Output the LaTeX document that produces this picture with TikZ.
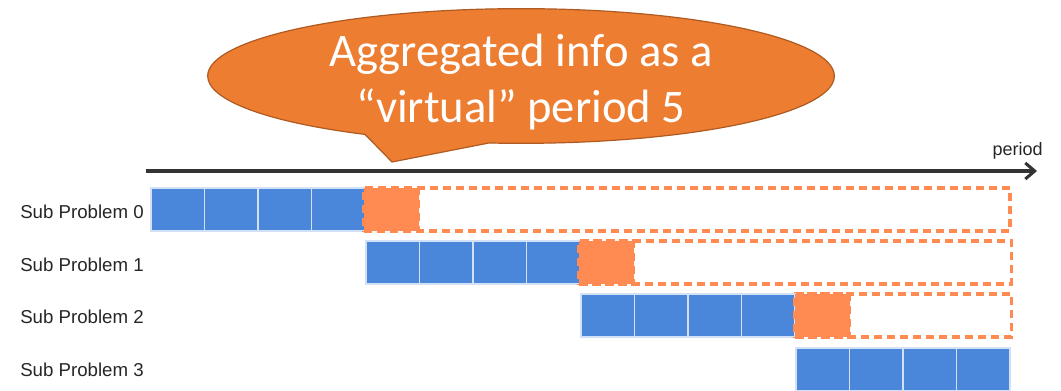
\documentclass[tikz,border=0pt]{standalone}
\usepackage{fontspec}
\setmainfont{Liberation Sans}
\newfontfamily\calloutfont{Carlito}
\usetikzlibrary{shapes.callouts,arrows.meta}
\definecolor{cellblue}{RGB}{74,134,218}
\definecolor{cellorange}{RGB}{255,139,82}
\definecolor{callfill}{RGB}{237,125,49}
\definecolor{calldraw}{RGB}{174,90,33}
\definecolor{axisgray}{RGB}{51,51,51}
\tikzset{
  cell/.style={anchor=north west, fill=cellblue, draw=white!75!cellblue, line width=0.8pt,
    minimum width=40.1pt, minimum height=32.25pt, inner sep=0pt, outer sep=0pt},
  aggcell/.style={anchor=north west, fill=cellorange, draw=cellorange, line width=2.4pt,
    dash pattern=on 6pt off 3.75pt, minimum width=41pt, minimum height=32.25pt, inner sep=0pt, outer sep=0pt},
  dashbox/.style={anchor=north west, draw=cellorange, line width=2.4pt,
    dash pattern=on 6pt off 3.75pt, minimum height=32.25pt, inner sep=0pt, outer sep=0pt},
  rowlabel/.style={anchor=west, inner sep=0pt, font=\fontsize{14pt}{16pt}\selectfont, text=black!85},
  axis/.style={draw=axisgray, line width=2.3pt, -{Straight Barb[length=7pt,width=12pt,line width=2.3pt]}},
}
\begin{document}
\begin{tikzpicture}[x=0.75pt,y=-0.75pt]
\useasboundingbox (0,0) rectangle (1061,391);
\clip (0,0) rectangle (1061,391);
% axis
\coordinate (axs) at (146,171);
\coordinate (axe) at (1037,171);
\draw[axis] (axs) -- (axe);
\node[anchor=south east, inner sep=0pt, font=\fontsize{13.5pt}{15pt}\selectfont, text=black!85] (period) at (1043,160) {period};
% dashed boxes (drawn first)
\node[dashbox, minimum width=484.5pt] (d0) at (364,188) {};
\node[dashbox, minimum width=323.5pt] (d1) at (580,241) {};
\node[dashbox, minimum width=161.5pt] (d2) at (796,294) {};
% rows
\foreach \r/\x/\y in {0/151/188, 1/366/241, 2/581/294, 3/796/348}{
  \foreach \k in {0,1,2,3}{
    \node[cell] (c\r\k) at ({\x+53.5*\k},\y) {};
  }
}
\node[aggcell] (a0) at (364,188) {};
\node[aggcell] (a1) at (579,241) {};
\node[aggcell] (a2) at (795,294) {};
% labels
\node[rowlabel] (l0) at (20,212) {Sub Problem 0};
\node[rowlabel] (l1) at (20,265) {Sub Problem 1};
\node[rowlabel] (l2) at (20,317) {Sub Problem 2};
\node[rowlabel] (l3) at (20,370) {Sub Problem 3};
% callout
\node[ellipse callout, fill=callfill, draw=calldraw, line width=0.9pt,
  minimum width=470pt, minimum height=101pt, inner sep=0pt,
  callout absolute pointer={(392,162)}, callout pointer arc=24] (call) at (521,76) {};
\node[text=white, align=center, inner sep=0pt,
  font=\calloutfont\fontsize{35pt}{42pt}\selectfont] (calltext) at (521,82)
  {Aggregated info as a\\“virtual” period 5};
\end{tikzpicture}
\end{document}
